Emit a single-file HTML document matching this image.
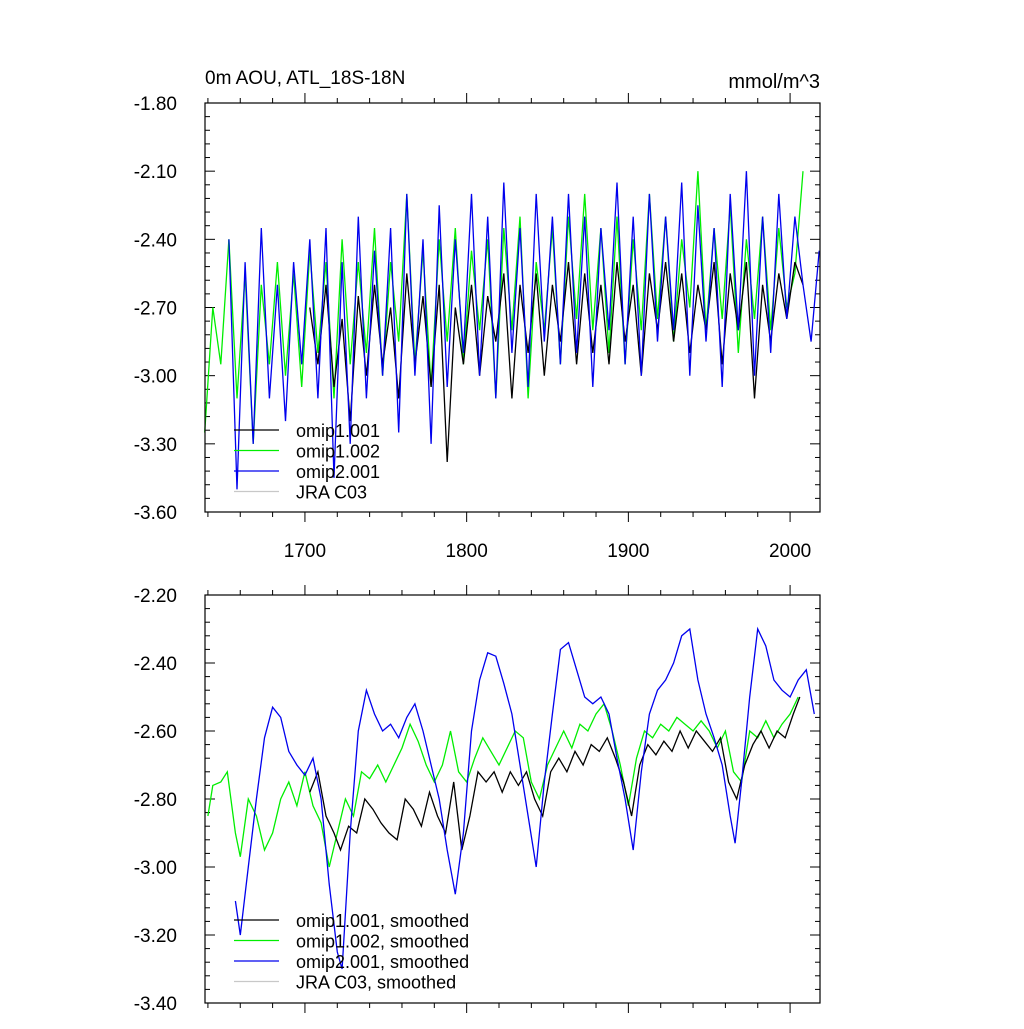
<!DOCTYPE html>
<html><head><meta charset="utf-8"><style>
body{margin:0;background:#fff;}
svg text{font-family:"Liberation Sans",sans-serif;fill:#000;}
</style></head><body>
<svg id="c" width="1024" height="1024" xmlns="http://www.w3.org/2000/svg"></svg>
<script>
// ---- data ----
const topBlackStart = 1703, topBlackStep = 5;
const topBlack = [-2.7,-2.95,-2.6,-3.05,-2.75,-3.2,-2.65,-3.0,-2.6,-2.95,-2.7,-3.1,-2.55,-2.95,-2.65,-3.05,-2.6,-3.38,-2.7,-2.95,-2.6,-3.0,-2.65,-2.85,-2.55,-3.1,-2.6,-2.9,-2.55,-3.0,-2.6,-2.85,-2.5,-2.95,-2.55,-2.9,-2.6,-2.95,-2.5,-2.85,-2.6,-3.0,-2.55,-2.8,-2.5,-2.85,-2.55,-2.9,-2.6,-2.8,-2.5,-2.95,-2.55,-2.8,-2.5,-3.1,-2.6,-2.85,-2.55,-2.75,-2.5,-2.6];
const topGreenStart = 1638, topGreenStep = 5;
const topGreen = [-3.25,-2.7,-2.95,-2.4,-3.1,-2.55,-3.3,-2.6,-2.95,-2.5,-3.0,-2.55,-3.05,-2.45,-2.9,-2.5,-3.1,-2.4,-2.95,-2.5,-2.9,-2.35,-3.0,-2.5,-2.85,-2.2,-2.95,-2.45,-3.05,-2.4,-2.85,-2.35,-2.95,-2.45,-2.8,-2.4,-3.1,-2.35,-2.8,-2.3,-3.1,-2.5,-2.8,-2.35,-2.95,-2.3,-2.75,-2.2,-2.8,-2.35,-2.9,-2.3,-2.95,-2.4,-2.8,-2.2,-2.75,-2.3,-2.85,-2.4,-2.7,-2.1,-2.8,-2.35,-2.75,-2.25,-2.9,-2.4,-2.75,-2.3,-2.8,-2.35,-2.7,-2.55,-2.1];
const topBlueStart = 1653, topBlueStep = 5;
const topBlue = [-2.4,-3.5,-2.5,-3.3,-2.35,-3.1,-2.6,-3.2,-2.5,-2.95,-2.4,-3.1,-2.35,-3.45,-2.5,-3.3,-2.3,-3.1,-2.45,-3.0,-2.35,-3.25,-2.2,-3.0,-2.4,-3.3,-2.25,-3.05,-2.4,-2.9,-2.2,-3.0,-2.3,-3.1,-2.15,-2.9,-2.35,-3.05,-2.2,-2.85,-2.3,-2.95,-2.2,-2.9,-2.3,-3.05,-2.35,-2.8,-2.15,-2.95,-2.3,-3.0,-2.2,-2.85,-2.3,-2.8,-2.15,-3.0,-2.25,-2.85,-2.35,-3.05,-2.2,-2.8,-2.1,-3.0,-2.3,-2.9,-2.2,-2.75,-2.3,-2.6,-2.85,-2.45];

const botBlackYears = [1703,1708,1713,1718,1722,1727,1732,1737,1742,1747,1752,1757,1762,1767,1772,1777,1782,1787,1792,1797,1802,1807,1812,1817,1822,1827,1832,1837,1842,1847,1852,1857,1862,1867,1872,1877,1882,1887,1892,1897,1902,1907,1912,1917,1922,1927,1932,1937,1942,1947,1952,1957,1962,1967,1972,1977,1982,1987,1992,1997,2002,2006];
const botBlack = [-2.78,-2.72,-2.85,-2.9,-2.95,-2.88,-2.9,-2.8,-2.83,-2.87,-2.9,-2.92,-2.8,-2.83,-2.88,-2.78,-2.85,-2.9,-2.75,-2.95,-2.85,-2.72,-2.75,-2.72,-2.78,-2.72,-2.76,-2.72,-2.8,-2.85,-2.72,-2.68,-2.72,-2.66,-2.7,-2.64,-2.66,-2.62,-2.68,-2.75,-2.85,-2.7,-2.64,-2.67,-2.63,-2.66,-2.6,-2.65,-2.6,-2.63,-2.66,-2.62,-2.75,-2.8,-2.7,-2.64,-2.6,-2.65,-2.6,-2.62,-2.55,-2.5];
const botGreenYears = [1640,1643,1648,1652,1657,1660,1665,1670,1675,1680,1685,1690,1695,1700,1705,1710,1715,1720,1725,1730,1735,1740,1745,1750,1755,1760,1765,1770,1775,1780,1785,1790,1795,1800,1805,1810,1815,1820,1825,1830,1835,1840,1845,1850,1855,1860,1865,1870,1875,1880,1885,1890,1895,1900,1905,1910,1915,1920,1925,1930,1935,1940,1945,1950,1955,1960,1965,1970,1975,1980,1985,1990,1995,2000,2005];
const botGreen = [-2.85,-2.76,-2.75,-2.72,-2.9,-2.97,-2.8,-2.85,-2.95,-2.9,-2.8,-2.75,-2.82,-2.72,-2.82,-2.87,-3.0,-2.9,-2.8,-2.85,-2.72,-2.74,-2.7,-2.75,-2.7,-2.65,-2.58,-2.63,-2.7,-2.75,-2.7,-2.6,-2.72,-2.75,-2.68,-2.62,-2.66,-2.7,-2.65,-2.6,-2.62,-2.75,-2.8,-2.7,-2.65,-2.6,-2.65,-2.58,-2.6,-2.55,-2.52,-2.6,-2.7,-2.82,-2.68,-2.6,-2.62,-2.58,-2.6,-2.56,-2.58,-2.6,-2.57,-2.6,-2.65,-2.6,-2.72,-2.75,-2.6,-2.62,-2.57,-2.62,-2.58,-2.55,-2.5];
const botBlueYears = [1657,1660,1665,1670,1675,1680,1685,1690,1695,1700,1705,1710,1715,1720,1723,1728,1733,1738,1743,1748,1753,1758,1763,1768,1773,1778,1783,1788,1793,1798,1803,1808,1813,1818,1823,1828,1833,1838,1843,1848,1853,1858,1863,1868,1873,1878,1883,1888,1893,1898,1903,1908,1913,1918,1923,1928,1933,1938,1943,1948,1953,1958,1963,1966,1970,1975,1980,1985,1990,1995,2000,2005,2010,2015];
const botBlue = [-3.1,-3.2,-3.0,-2.8,-2.62,-2.53,-2.56,-2.66,-2.7,-2.73,-2.68,-2.8,-3.05,-3.25,-3.3,-2.9,-2.6,-2.48,-2.55,-2.6,-2.58,-2.62,-2.56,-2.52,-2.6,-2.7,-2.8,-2.95,-3.08,-2.9,-2.6,-2.45,-2.37,-2.38,-2.46,-2.55,-2.7,-2.85,-3.0,-2.75,-2.55,-2.36,-2.34,-2.42,-2.5,-2.52,-2.5,-2.55,-2.68,-2.8,-2.95,-2.72,-2.55,-2.48,-2.45,-2.4,-2.32,-2.3,-2.45,-2.55,-2.62,-2.7,-2.85,-2.93,-2.75,-2.5,-2.3,-2.35,-2.45,-2.48,-2.5,-2.45,-2.42,-2.55];

const topYTicks = ["-1.80","-2.10","-2.40","-2.70","-3.00","-3.30","-3.60"];
const botYTicks = ["-2.20","-2.40","-2.60","-2.80","-3.00","-3.20","-3.40"];
const xTicks = [1700,1800,1900,2000];

// ---- drawing ----
const svg = document.getElementById('c');
const NS = 'http://www.w3.org/2000/svg';
function mk(tag, attrs, parent){const e=document.createElementNS(NS,tag);for(const k in attrs)e.setAttribute(k,attrs[k]);(parent||svg).appendChild(e);return e;}
const L=205,R=820;
const X0=1638.2,X1=2018.5;
const xs = y => L+(y-X0)/(X1-X0)*(R-L);

function panel(name, top, bot, ymax, ymin, yTicks, showXLabels){
  const g = mk('g',{});
  
  
  const ys = v => top+(ymax-v)/(ymax-ymin)*(bot-top);
  const nT = yTicks.length;
  for(let i=0;i<nT;i++){
    const v = parseFloat(yTicks[i]); const y=ys(v);
    mk('line',{x1:L,y1:y,x2:L+10,y2:y,stroke:'#000','stroke-width':1},g);
    mk('line',{x1:R,y1:y,x2:R-10,y2:y,stroke:'#000','stroke-width':1},g);
    const t=mk('text',{x:L-28,y:y+7,'font-size':19,'text-anchor':'end'},g);
    t.textContent=yTicks[i];
    
    
    if(i<nT-1){
      const step=(parseFloat(yTicks[i+1])-v)/5;
      for(let k=1;k<5;k++){const yy=ys(v+k*step);
        mk('line',{x1:L,y1:yy,x2:L+5,y2:yy,stroke:'#000'},g);
        mk('line',{x1:R,y1:yy,x2:R-5,y2:yy,stroke:'#000'},g);}
    }
  }
  for(let yr=1640; yr<=2018; yr+=20){
    const x=xs(yr); const major = yr%100===0;
    const len = major?10:5;
    mk('line',{x1:x,y1:bot,x2:x,y2:bot+len,stroke:'#000'},g);
    mk('line',{x1:x,y1:top,x2:x,y2:top-len,stroke:'#000'},g);
  }
  if(showXLabels){
    for(const yr of xTicks){
      const t=mk('text',{x:xs(yr),y:bot+45,'font-size':19,'text-anchor':'middle'},g);
      t.textContent=yr;
      
      
    }
  }
  return {g, ys};
}
function line(p, years, vals, color, name){
  let d='';
  for(let i=0;i<vals.length;i++){d+=(i?'L':'M')+xs(years[i]).toFixed(1)+','+p.ys(vals[i]).toFixed(1);}
  const e=mk('path',{d:d,fill:'none',stroke:color,'stroke-width':1.3},p.g);
  
  
}
function yrs(start, step, n){const a=[];for(let i=0;i<n;i++)a.push(start+i*step);return a;}
function legend(g, x, y, entries){
  entries.forEach((en,i)=>{
    const yy=y+i*20.5;
    const l=mk('line',{x1:x,y1:yy,x2:x+45,y2:yy,stroke:en[1],'stroke-width':1.3},g);
    
    
    const t=mk('text',{x:x+62,y:yy+7,'font-size':18},g);
    t.textContent=en[0];
    
    
  });
}

const p1 = panel('top-panel',103,512,-1.8,-3.6,topYTicks,true);
line(p1, yrs(topGreenStart,topGreenStep,topGreen.length), topGreen, '#00ee00','series-omip1-002');
line(p1, yrs(topBlackStart,topBlackStep,topBlack.length), topBlack, '#000','series-omip1-001');
line(p1, yrs(topBlueStart,topBlueStep,topBlue.length), topBlue, '#0000ee','series-omip2-001');
mk('rect',{x:L,y:103,width:R-L,height:409,fill:'none',stroke:'#000','stroke-width':1.2},p1.g);
legend(p1.g,234,430,[['omip1.001','#000'],['omip1.002','#00ee00'],['omip2.001','#0000ee'],['JRA C03','#c8c8c8']]);
const tt=mk('text',{x:205,y:84,'font-size':19});tt.textContent='0m AOU, ATL_18S-18N';

const tu=mk('text',{x:820,y:88,'font-size':20,'text-anchor':'end'});tu.textContent='mmol/m^3';


const p2 = panel('bottom-panel',595,1003,-2.2,-3.4,botYTicks,false);
line(p2, botGreenYears, botGreen, '#00ee00','smoothed-omip1-002');
line(p2, botBlackYears, botBlack, '#000','smoothed-omip1-001');
line(p2, botBlueYears, botBlue, '#0000ee','smoothed-omip2-001');
mk('rect',{x:L,y:595,width:R-L,height:408,fill:'none',stroke:'#000','stroke-width':1.2},p2.g);
legend(p2.g,234,920,[['omip1.001, smoothed','#000'],['omip1.002, smoothed','#00ee00'],['omip2.001, smoothed','#0000ee'],['JRA C03, smoothed','#c8c8c8']]);
</script>
</body></html>
